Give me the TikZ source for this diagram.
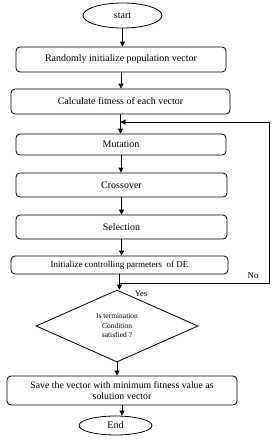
\documentclass[tikz,border=0pt]{standalone}
\usepackage{fontspec}
\setmainfont{Liberation Serif}
\usepackage{tikz}
\usetikzlibrary{arrows.meta, shapes, positioning, calc}

\begin{document}
\begin{tikzpicture}[x=1pt, y=-1pt, font=\fontsize{10}{11}\selectfont,
  stepbox/.style={draw, line width=0.8pt, rounded corners=4pt, inner sep=0pt, align=center},
  termbox/.style={draw, ellipse, line width=0.8pt, inner sep=0pt},
  arr/.style={line width=0.8pt, -{Triangle[length=5pt, width=5pt]}}]
  \useasboundingbox (0,0) rectangle (280,447);

  % start / end
  \node[termbox, minimum width=79pt, minimum height=25pt] (start) at (122.5,15.5) {start};
  \node[termbox, minimum width=73pt, minimum height=19pt] (finish) at (115.5,425.5) {End};

  % main steps
  \node[stepbox, minimum width=210pt, minimum height=25pt] (randinit) at (121,59.5)
    {Randomly initialize population vector};
  \node[stepbox, minimum width=219pt, minimum height=25pt] (fitness) at (120.5,101.5)
    {Calculate fitness of each vector};
  \node[stepbox, minimum width=210pt, minimum height=21pt] (mutation) at (121,144.5)
    {Mutation};
  \node[stepbox, minimum width=211pt, minimum height=24pt] (crossover) at (121.5,185)
    {Crossover};
  \node[stepbox, minimum width=211pt, minimum height=24pt] (selection) at (121.5,227)
    {Selection};
  \node[stepbox, minimum width=217pt, minimum height=18pt, font=\fontsize{9}{10}\selectfont] (initparam) at (119.5,265)
    {Initialize controlling parmeters~~of DE};

  % termination test
  \node[draw, diamond, line width=0.8pt, inner sep=0pt, minimum width=162pt, minimum height=72pt,
    align=center, font=\fontsize{7.5}{9.5}\selectfont] (termcheck) at (117,326)
    {Is termination\\Condition\\satisfied ?};

  \node[stepbox, minimum width=230pt, minimum height=29pt, font=\fontsize{9.8}{11}\selectfont] (savevec) at (122,390.5)
    {Save the vector with minimum fitness value as\\solution vector};

  % arrows down
  \draw[arr] (start.south) -- (start.south |- randinit.north);
  \draw[arr] (randinit.south) -- (randinit.south |- fitness.north);
  \draw[arr] (fitness.south) -- (fitness.south |- mutation.north);
  \draw[arr] (mutation.south) -- (mutation.south |- crossover.north);
  \draw[arr] (crossover.south) -- (crossover.south |- selection.north);
  \draw[arr] (selection.south) -- (selection.south |- initparam.north);
  \draw[arr] (initparam.south) -- (initparam.south |- termcheck.north);
  \draw[arr] (termcheck.south) -- (termcheck.south |- savevec.north);
  \draw[arr] (savevec.south) -- (savevec.south |- finish.north);

  % loop back
  \coordinate (junc) at (initparam.south |- 0,283);
  \coordinate (looprt) at (269,122);
  \coordinate (loopin) at (fitness.south |- looprt);
  \draw[arr] (junc) -- (junc -| looprt) -- (looprt) -- (loopin);

  \node[font=\fontsize{9}{10}\selectfont] (nolbl) at (253,276) {No};
  \node[font=\fontsize{8.5}{10}\selectfont] (yeslbl) at (141,294) {Yes};

\end{tikzpicture}
\end{document}
